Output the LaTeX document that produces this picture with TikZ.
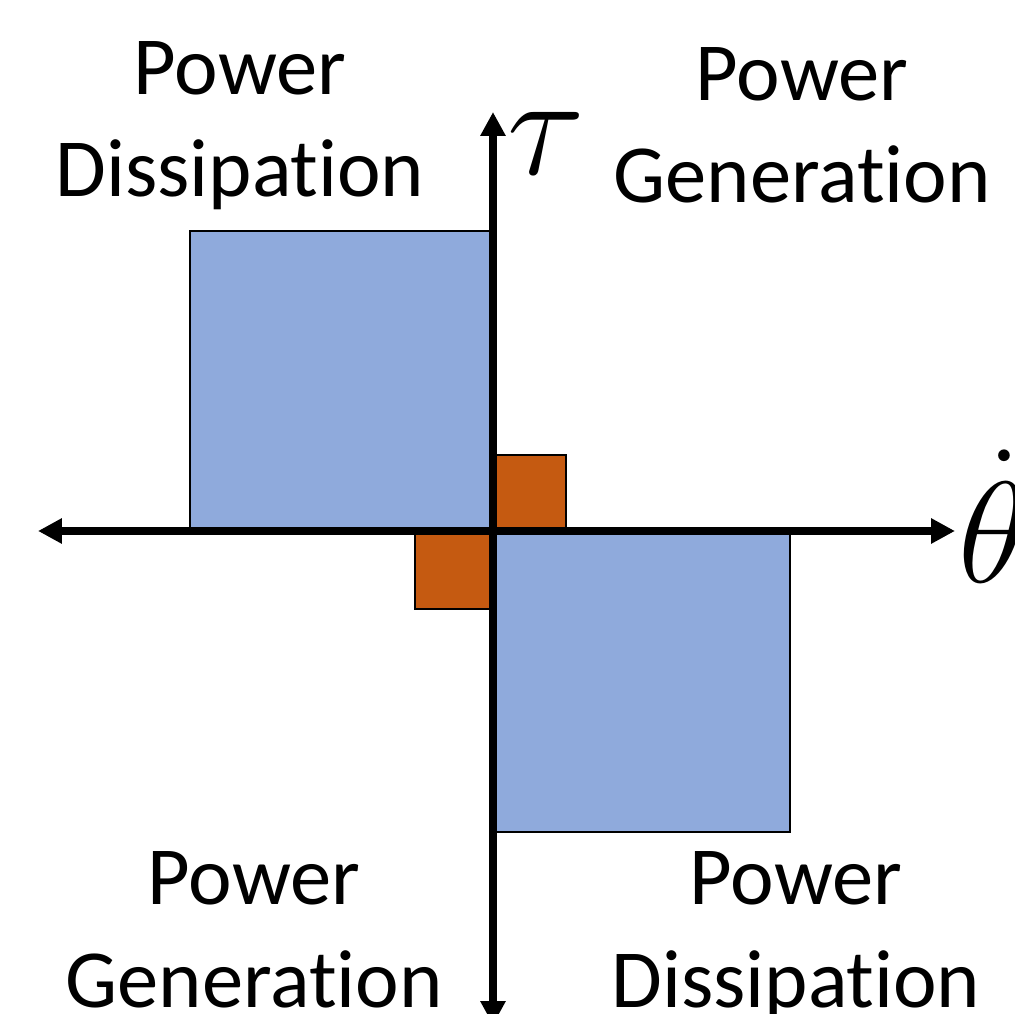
\documentclass[tikz,border=0pt]{standalone}
\usepackage{fix-cm}
\usepackage{amsmath}
\usepackage{fontspec}
\usepackage{tikz}
\usetikzlibrary{arrows.meta}
\newfontfamily\calfont[Ligatures=NoCommon]{Carlito}
\definecolor{slab}{HTML}{8FAADC}
\definecolor{rust}{HTML}{C55A11}
\newcommand{\quadfont}{\calfont\fontsize{47}{58.6}\selectfont}
\newcommand{\symfont}{\fontsize{82}{98}\selectfont}

\tikzset{
  axis/.style={line width=4.5pt,-{Triangle[length=0.48cm,width=0.48cm]}},
  patch/.style={draw=black,line width=1.1pt},
  quad/.style={align=center,anchor=base,inner sep=0pt,font=\quadfont},
  sym/.style={anchor=base west,inner sep=0pt,font=\symfont}
}

\begin{document}
\begin{tikzpicture}[x=0.02cm,y=0.02cm]
  \useasboundingbox (-493,-483) rectangle (522,531);
  % boxes first, axes go on top
  \fill[slab,patch] (-303,300) rectangle (0,0);
  \fill[slab,patch] (0,0) rectangle (297,-301);
  \fill[rust,patch] (0,0) rectangle (73,76);
  \fill[rust,patch] (-78,-78) rectangle (0,0);
  \coordinate (origin) at (0,0);
  \coordinate (west) at (-455,0);
  \coordinate (east) at (462,0);
  \coordinate (north) at (0,419);
  \coordinate (south) at (0,-494);
  \draw[axis] (origin) -- (west);
  \draw[axis] (origin) -- (east);
  \draw[axis] (origin) -- (north);
  \draw[axis] (origin) -- (south);
  \node[sym] (tau) at (14,356) {$\tau$};
  \node[sym] (thetadot) at (465,-52) {$\dot{\theta}$};
  % base anchor sits on the second line
  \foreach \x/\y/\nm/\lab in {%
    -253/334/dissUL/Dissipation,
    309/328/genUR/Generation,
    -239/-476/genLL/Generation,
    303/-476/dissLR/Dissipation}{
    \node[quad] (\nm) at (\x,\y) {Power\\\lab};}
\end{tikzpicture}
\end{document}
